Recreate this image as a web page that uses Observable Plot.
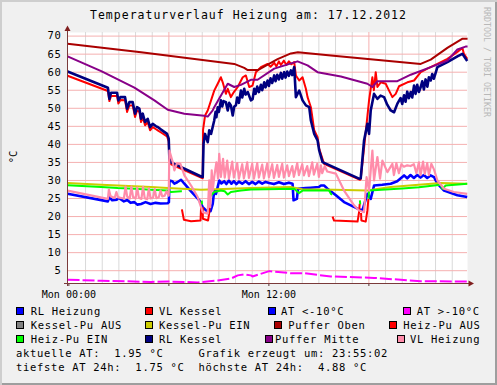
<!DOCTYPE html>
<html><head><meta charset="utf-8">
<script src="https://cdn.jsdelivr.net/npm/d3@7"></script>
<script src="https://cdn.jsdelivr.net/npm/@observablehq/plot@0.6"></script>
<style>
html,body{margin:0;padding:0;background:#fff}
#chart{position:relative;width:497px;height:385px;background:#F0F0F0;box-shadow:inset 2px 2px 0 #CECECE, inset -2px -2px 0 #9E9E9E;overflow:hidden;font-family:"DejaVu Sans Mono",monospace;color:#000}
#chart svg{position:absolute;left:0;top:0}
.t{position:absolute;white-space:pre;line-height:1;font-size:10.5px;letter-spacing:0.7px}
.sq{position:absolute;width:8px;height:8px;box-sizing:border-box;border:1px solid #000}
#title{position:absolute;left:0;width:497px;top:10.3px;text-align:center;font-size:11.5px;letter-spacing:1px;line-height:1;white-space:pre}
#ylab{position:absolute;left:13.3px;top:156.7px;font-size:10.5px;line-height:1;transform-origin:0 0;transform:rotate(-90deg) translate(-50%,-50%);white-space:pre}
#wm{position:absolute;left:486.7px;top:6.7px;font-size:8.3px;line-height:1;color:#B8B8B8;transform-origin:0 0;transform:rotate(90deg) translateY(-50%);white-space:pre}
g[aria-label="y-axis tick label"] text{letter-spacing:0.7px}
</style></head>
<body><div id="chart"></div>
<script>
// ---------- data (hours since Mon 00:00, °C) ----------
const titleText = "Temperaturverlauf Heizung am: 17.12.2012";
const yLabel = "°C";
const watermark = "RRDTOOL / TOBI OETIKER";
const yTicks = [5,10,15,20,25,30,35,40,45,50,55,60,65,70];
const xTicks = [0,6,12,18];
const xTickLabels = ["Mon 00:00","","Mon 12:00",""];
const minorHours = [1,2,3,4,5,7,8,9,10,11,13,14,15,16,17,19,20,21,22,23];
const majorHours = [6,12,18];

const rlHeizung = [[-0.08,26.3],[2.34,24.2],[2.43,25.4],[2.6,24.5],[2.89,24.7],[2.97,25.2],[3.3,24.2],[3.5,24.6],[3.7,23.8],[3.93,24.0],[4.1,23.3],[4.33,23.5],[4.6,24.0],[4.9,23.5],[5.2,23.8],[5.5,23.6],[5.93,23.7],[6.0,24.0],[6.03,30.0],[6.2,29.8],[6.33,29.1],[6.5,29.5],[6.73,30.2],[6.93,29.1],[7.33,27.0],[7.83,24.5],[8.03,22.6],[8.23,21.7],[8.5,21.5],[8.63,23.5],[8.72,27.2],[8.83,26.3],[9.02,30.0],[9.15,29.2],[9.32,29.8],[9.45,29.0],[9.6,30.0],[9.75,29.1],[9.9,29.8],[10.05,29.0],[10.2,29.7],[10.4,29.1],[10.6,29.8],[10.8,29.0],[11.0,29.6],[11.2,29.0],[11.4,29.7],[11.6,29.1],[11.8,29.6],[12.02,29.3],[12.3,29.0],[12.6,29.5],[12.9,29.0],[13.2,29.4],[13.42,29.1],[13.48,24.5],[13.68,24.9],[13.75,27.7],[14.2,27.9],[14.5,28.0],[15.0,28.2],[15.12,28.6],[15.31,28.6],[15.5,27.8],[16.02,25.9],[16.51,24.0],[17.32,22.2],[17.61,21.7],[17.91,26.3],[18.11,24.9],[18.31,28.6],[18.8,28.8],[19.31,29.1],[19.7,29.8],[20.11,31.4],[20.3,30.6],[20.5,31.5],[20.7,30.7],[20.9,31.5],[21.1,30.8],[21.3,31.5],[21.5,30.7],[21.7,31.4],[21.91,30.9],[22.11,29.1],[22.51,27.2],[23.31,25.9],[23.9,25.4]];

const vlKessel = [[-0.08,59.0],[2.34,54.8],[2.43,52.0],[2.53,53.4],[2.89,53.4],[2.97,51.3],[3.09,52.3],[3.37,52.2],[3.49,49.0],[3.63,50.8],[3.83,50.8],[3.97,47.6],[4.09,49.4],[4.23,49.0],[4.33,46.2],[4.43,47.6],[4.57,45.3],[4.73,46.2],[4.87,43.9],[5.03,44.8],[5.23,44.2],[5.33,43.9],[5.53,43.3],[5.89,42.2],[5.99,40.8],[6.03,35.5],[6.13,34.5],[7.93,30.8],[8.03,30.6],[8.05,44.0],[8.17,48.0],[8.33,49.4],[8.53,52.2],[8.72,54.9],[8.93,56.8],[9.12,58.6],[9.23,57.2],[9.42,54.0],[9.53,55.4],[9.72,53.1],[9.9,54.5],[10.13,55.9],[10.43,58.6],[10.62,59.1],[10.82,55.9],[11.02,56.3],[11.22,60.0],[11.52,61.4],[11.92,62.3],[12.1,61.5],[12.32,62.6],[12.45,61.6],[12.6,63.0],[12.72,62.0],[12.9,63.2],[13.05,62.0],[13.2,63.0],[13.35,62.2],[13.52,62.8],[13.62,59.1],[13.82,57.7],[14.02,58.6],[14.22,55.4],[14.32,53.1],[14.52,50.3],[14.72,43.9],[14.92,42.0],[15.02,38.8],[15.31,34.6],[17.47,30.2],[17.51,30.4],[17.71,39.0],[18.01,52.2],[18.21,58.6],[18.3,55.0],[18.41,60.0],[18.51,55.9],[18.71,57.2],[19.01,56.8],[19.21,54.9],[19.41,53.1],[19.61,54.0],[19.81,56.1],[20.31,57.2],[20.71,57.7],[21.11,60.0],[21.51,61.0],[22.11,62.3],[22.71,63.7],[23.31,65.6],[23.61,66.7],[23.7,65.1],[23.9,63.7]];

const atAbove = [[-0.08,2.5],[1.94,2.2],[4.93,1.9],[5.93,2.0],[7.73,1.75],[8.93,2.3],[9.72,2.8],[10.13,3.7],[10.52,4.0],[10.92,3.7],[11.02,3.4],[12.02,4.88],[13.32,4.3],[14.12,4.3],[15.72,3.4],[18.31,3.0],[21.11,2.1],[23.9,2.0]];

const kesselPuEin = [[-0.08,29.3],[1.94,28.8],[4.93,28.2],[5.93,27.9],[7.93,27.4],[9.72,27.7],[10.92,27.9],[13.32,28.2],[14.0,27.6],[15.91,27.4],[17.91,27.2],[19.31,28.2],[22.31,29.3],[23.9,29.1]];

const pufferOben = [[-0.08,67.9],[4.33,65.5],[9.92,62.3],[10.52,61.2],[10.73,60.6],[11.34,60.6],[11.82,61.8],[12.52,63.6],[13.32,65.2],[13.74,65.5],[15.72,64.6],[21.11,62.3],[21.71,63.5],[22.73,66.8],[23.62,69.3],[23.92,69.3]];

const heizPuAus = [[6.78,22.0],[6.9,19.1],[7.33,18.7],[7.9,18.9],[7.93,22.6],[7.95,null],[8.03,22.6],[8.04,19.4],[8.35,18.9],[8.42,21.0],[8.45,24.9],[8.46,null],[15.82,20.0],[15.91,18.9],[17.32,18.6],[17.41,21.2],[17.45,23.5],[17.46,null],[17.53,21.0],[17.55,18.9],[17.81,18.6],[17.91,21.7],[17.97,24.9]];

const heizPuEin = [[-0.08,28.7],[1.94,28.2],[2.93,27.9],[3.93,27.7],[4.93,27.4],[5.93,27.2],[6.13,26.8],[6.73,27.0],[6.78,27.0],[6.79,null],[7.97,24.4],[7.99,23.4],[8.0,null],[8.45,25.5],[8.72,26.8],[9.12,27.2],[9.35,27.0],[9.53,26.1],[9.72,26.8],[10.32,27.2],[10.92,27.5],[13.52,27.7],[13.8,26.5],[14.02,27.2],[15.61,27.2],[15.72,26.3],[15.8,26.1],[15.81,null],[17.46,24.5],[17.48,23.4],[17.5,null],[17.98,25.0],[18.01,27.2],[19.0,27.5],[20.0,27.8],[21.0,28.1],[21.91,28.6],[22.31,28.8],[22.41,27.7],[22.61,28.6],[23.9,29.1]];

const rlKessel = [[-0.08,60.2],[2.34,55.7],[2.43,52.6],[2.53,54.3],[2.89,54.3],[2.97,52.2],[3.09,53.1],[3.37,53.1],[3.49,49.9],[3.63,51.7],[3.83,51.7],[3.97,48.5],[4.09,50.3],[4.23,49.9],[4.33,47.1],[4.43,48.5],[4.57,46.2],[4.73,47.1],[4.87,44.8],[5.03,45.7],[5.23,45.0],[5.33,44.8],[5.53,44.1],[5.89,42.9],[5.99,41.6],[6.03,36.0],[6.13,35.0],[7.93,31.1],[8.03,31.0],[8.08,40.2],[8.17,42.9],[8.33,40.6],[8.42,43.9],[8.53,42.9],[8.72,46.6],[8.8,49.0],[8.85,47.5],[8.93,50.3],[9.0,49.0],[9.12,52.2],[9.2,50.5],[9.28,52.0],[9.42,51.7],[9.53,49.4],[9.62,51.5],[9.72,50.8],[9.83,48.0],[9.92,50.5],[10.02,50.8],[10.1,53.0],[10.2,51.5],[10.32,54.9],[10.4,53.0],[10.52,55.4],[10.6,53.8],[10.73,54.5],[10.92,52.2],[11.02,52.5],[11.12,55.4],[11.2,54.0],[11.3,56.0],[11.4,54.5],[11.52,56.5],[11.6,55.0],[11.72,57.2],[11.8,55.8],[11.92,57.7],[12.0,56.2],[12.1,58.3],[12.2,57.0],[12.32,59.1],[12.4,57.5],[12.5,59.3],[12.6,58.0],[12.72,59.8],[12.8,58.2],[12.92,60.0],[13.0,58.5],[13.1,60.2],[13.2,59.0],[13.32,60.5],[13.4,59.2],[13.52,61.4],[13.62,53.1],[13.82,54.9],[14.02,52.2],[14.22,50.8],[14.42,50.3],[14.52,46.6],[14.72,42.9],[14.92,41.1],[15.02,38.3],[15.22,35.1],[17.41,30.5],[17.51,30.6],[17.71,41.1],[17.91,45.7],[18.01,42.9],[18.11,49.4],[18.31,54.0],[18.51,52.6],[18.7,53.5],[18.91,53.1],[19.1,51.0],[19.31,49.4],[19.51,48.9],[19.71,51.3],[19.9,52.8],[20.0,51.2],[20.11,53.6],[20.2,51.8],[20.3,54.6],[20.4,52.8],[20.51,54.5],[20.6,53.0],[20.71,56.3],[20.8,54.0],[20.9,56.5],[21.0,54.5],[21.11,55.9],[21.2,57.5],[21.3,55.2],[21.4,58.0],[21.51,56.0],[21.6,58.6],[21.71,57.7],[21.8,59.5],[21.9,58.2],[22.11,61.4],[22.71,62.8],[23.31,64.4],[23.61,65.1],[23.9,63.1]];

const pufferMitte = [[-0.08,64.4],[1.94,60.3],[3.93,55.7],[5.13,52.2],[5.93,49.6],[6.93,48.5],[8.12,47.9],[8.33,47.7],[8.63,49.4],[8.72,50.3],[9.53,56.8],[9.92,55.9],[10.32,56.5],[10.92,57.9],[11.32,57.9],[12.32,61.0],[13.72,63.0],[14.32,61.9],[14.92,60.0],[16.32,58.8],[17.91,56.8],[18.21,55.9],[18.51,57.5],[19.71,57.5],[20.51,59.3],[21.71,61.4],[22.71,63.2],[23.31,66.3],[23.8,67.1],[23.92,67.1]];

const vlHeizung = [[-0.08,27.2],[2.34,24.9],[2.4,27.5],[2.5,25.6],[2.75,25.2],[2.85,26.8],[2.95,25.3],[3.3,25.0],[3.4,28.3],[3.5,25.5],[3.65,25.0],[3.75,28.3],[3.85,25.4],[4.0,25.0],[4.1,28.0],[4.2,25.2],[4.35,24.9],[4.45,28.2],[4.55,25.1],[4.7,24.8],[4.8,27.8],[4.9,25.0],[5.05,25.3],[5.15,27.6],[5.25,25.1],[5.4,25.4],[5.5,27.2],[5.6,25.6],[5.75,25.8],[5.85,27.0],[5.99,25.8],[6.03,38.3],[6.23,35.1],[6.33,32.8],[6.49,34.8],[6.69,34.6],[6.93,31.4],[7.33,28.6],[7.73,25.4],[7.93,22.6],[8.03,21.2],[8.33,20.8],[8.42,30.0],[8.48,22.6],[8.57,32.8],[8.63,27.2],[8.72,31.0],[8.85,35.0],[8.95,30.5],[9.02,37.4],[9.12,31.0],[9.25,36.0],[9.35,30.8],[9.5,35.5],[9.6,30.5],[9.8,35.2],[9.9,30.8],[10.1,34.8],[10.2,30.5],[10.4,34.5],[10.5,30.6],[10.7,35.0],[10.8,30.7],[11.0,34.6],[11.1,30.5],[11.3,34.8],[11.4,30.8],[11.6,34.4],[11.7,30.6],[11.9,34.7],[12.0,30.9],[12.2,34.5],[12.3,30.7],[12.5,34.3],[12.6,31.0],[12.8,34.6],[12.9,30.8],[13.1,34.2],[13.2,31.2],[13.4,34.0],[13.5,31.0],[13.7,34.8],[13.8,31.5],[14.0,34.5],[14.1,31.4],[14.3,34.0],[14.4,31.2],[14.6,35.0],[14.7,31.6],[14.9,34.6],[15.0,31.0],[15.12,34.2],[15.2,32.0],[15.35,34.0],[15.5,32.5],[16.02,31.9],[16.51,27.2],[17.11,23.1],[17.41,21.7],[17.71,21.2],[17.86,30.9],[18.01,27.2],[18.21,38.3],[18.31,30.0],[18.51,36.5],[18.67,30.5],[18.81,35.5],[19.11,32.3],[19.41,34.6],[19.5,31.5],[19.65,34.8],[19.8,32.0],[19.95,34.5],[20.1,33.8],[20.3,34.2],[20.5,34.0],[20.7,34.5],[20.85,32.0],[21.0,35.0],[21.1,31.5],[21.25,35.2],[21.35,31.8],[21.5,34.8],[21.6,31.5],[21.75,34.6],[21.91,33.0],[22.11,30.0],[22.51,27.7],[23.1,26.8],[23.9,26.3]];

const legendLabels = ["RL Heizung","VL Kessel","AT <-10°C","AT >-10°C","Kessel-Pu AUS","Kessel-Pu EIN","Puffer Oben","Heiz-Pu AUS","Heiz-Pu EIN","RL Kessel","Puffer Mitte","VL Heizung"];
const legendColors = ["#0000FF","#FF0000","#0000FF","#FF00FF","#808080","#CCCC00","#AA0000","#FF0000","#00FF00","#000080","#880088","#FF8CAA"];
const atAktuell = "1.95", atMin = "1.75", atMax = "4.88", erzeugt = "23:55:02";

// ---------- layout ----------
const legendSqX = [16,145,268,403, 16,145,274,389, 16,145,265,397];
const legendTxX = [30.7,159,281,416.7, 30.7,159,288.3,403.3, 30.7,159,275,410];
const rowBase = [315,329,343,357,371];

const chart = document.getElementById("chart");
const lw = {w: 2};
const series = [
  {d: rlHeizung, c: legendColors[0], w: 2.6},
  {d: vlKessel, c: legendColors[1], w: 2},
  {d: atAbove, c: legendColors[3], w: 2, dash: "12,3"},
  {d: kesselPuEin, c: legendColors[5], w: 2},
  {d: pufferOben, c: legendColors[6], w: 2},
  {d: heizPuAus, c: legendColors[7], w: 2},
  {d: heizPuEin, c: legendColors[8], w: 2},
  {d: rlKessel, c: legendColors[9], w: 2.6},
  {d: pufferMitte, c: legendColors[10], w: 2},
  {d: vlHeizung, c: legendColors[11], w: 2.2}
];

const plot = Plot.plot({
  width: 497, height: 300,
  marginLeft: 67, marginRight: 30, marginTop: 32, marginBottom: 17,
  x: {domain: [-5/60, 24 - 5/60]},
  y: {domain: [1.45, 71]},
  style: {background: "transparent", fontFamily: "DejaVu Sans Mono", fontSize: "10px", color: "#000", overflow: "visible"},
  marks: [
    Plot.frame({fill: "#FFFFFF", stroke: null}),
    Plot.ruleX(minorHours, {stroke: "#D9D9D9", strokeWidth: 1}),
    Plot.ruleY(yTicks, {stroke: "#F5B0B0", strokeWidth: 1}),
    Plot.ruleX(majorHours, {stroke: "#F5B0B0", strokeWidth: 1}),
    ...series.map(s => Plot.line(s.d, {stroke: s.c, strokeWidth: s.w, strokeDasharray: s.dash, strokeLinejoin: "round", strokeLinecap: "butt"})),
    Plot.axisY({ticks: yTicks, tickSize: 0, tickPadding: 6, fontSize: 10.5, tickFormat: d => String(d)}),
    Plot.axisX({ticks: xTicks, tickSize: 3, tickPadding: 4, stroke: "#5a3030", fontSize: 10, tickFormat: (d) => xTickLabels[xTicks.indexOf(d)]})
  ]
});
chart.appendChild(plot);

// axis lines + arrows, placed from the plot's own scales
const [x0, x1] = plot.scale("x").range;
const [y0, y1] = plot.scale("y").range;
const svg = d3.select(plot);
const axisColor = "#7a3a3a", arrowColor = "#801F1F";
svg.append("line").attr("x1", x0 + 0.5).attr("x2", x0 + 0.5).attr("y1", y0 + 3).attr("y2", y1 - 3).attr("stroke", axisColor);
svg.append("line").attr("x1", x0 - 3).attr("x2", x1 + 3).attr("y1", y0 + 0.5).attr("y2", y0 + 0.5).attr("stroke", axisColor);
svg.append("path").attr("d", `M${x0+0.5},${y1-6.5}L${x0-2.5},${y1-1}L${x0+3.5},${y1-1}Z`).attr("fill", arrowColor);
svg.append("path").attr("d", `M${x1+7},${y0+0.5}L${x1+1.5},${y0-2.5}L${x1+1.5},${y0+3.5}Z`).attr("fill", arrowColor);

// texts
function addDiv(cls, id, txt) {
  const el = document.createElement("div");
  if (cls) el.className = cls;
  if (id) el.id = id;
  el.textContent = txt;
  chart.appendChild(el);
  return el;
}
addDiv(null, "title", titleText);
addDiv(null, "ylab", yLabel);
addDiv(null, "wm", watermark);

const asc = 0.846 * 10.5;
legendLabels.forEach((lab, i) => {
  const row = Math.floor(i / 4);
  const sq = document.createElement("div");
  sq.className = "sq";
  sq.style.left = legendSqX[i] + "px";
  sq.style.top = (rowBase[row] - 8) + "px";
  sq.style.background = legendColors[i];
  chart.appendChild(sq);
  const t = addDiv("t", null, lab);
  t.style.left = legendTxX[i] + "px";
  t.style.top = (rowBase[row] - asc) + "px";
});
const info1 = addDiv("t", null, `aktuelle AT:  ${atAktuell} °C     Grafik erzeugt um: ${erzeugt}`);
info1.style.left = "16px"; info1.style.top = (rowBase[3] - asc) + "px";
const info2 = addDiv("t", null, `tiefste AT 24h:  ${atMin} °C  höchste AT 24h:  ${atMax} °C`);
info2.style.left = "16px"; info2.style.top = (rowBase[4] - asc) + "px";
</script>
</body></html>
